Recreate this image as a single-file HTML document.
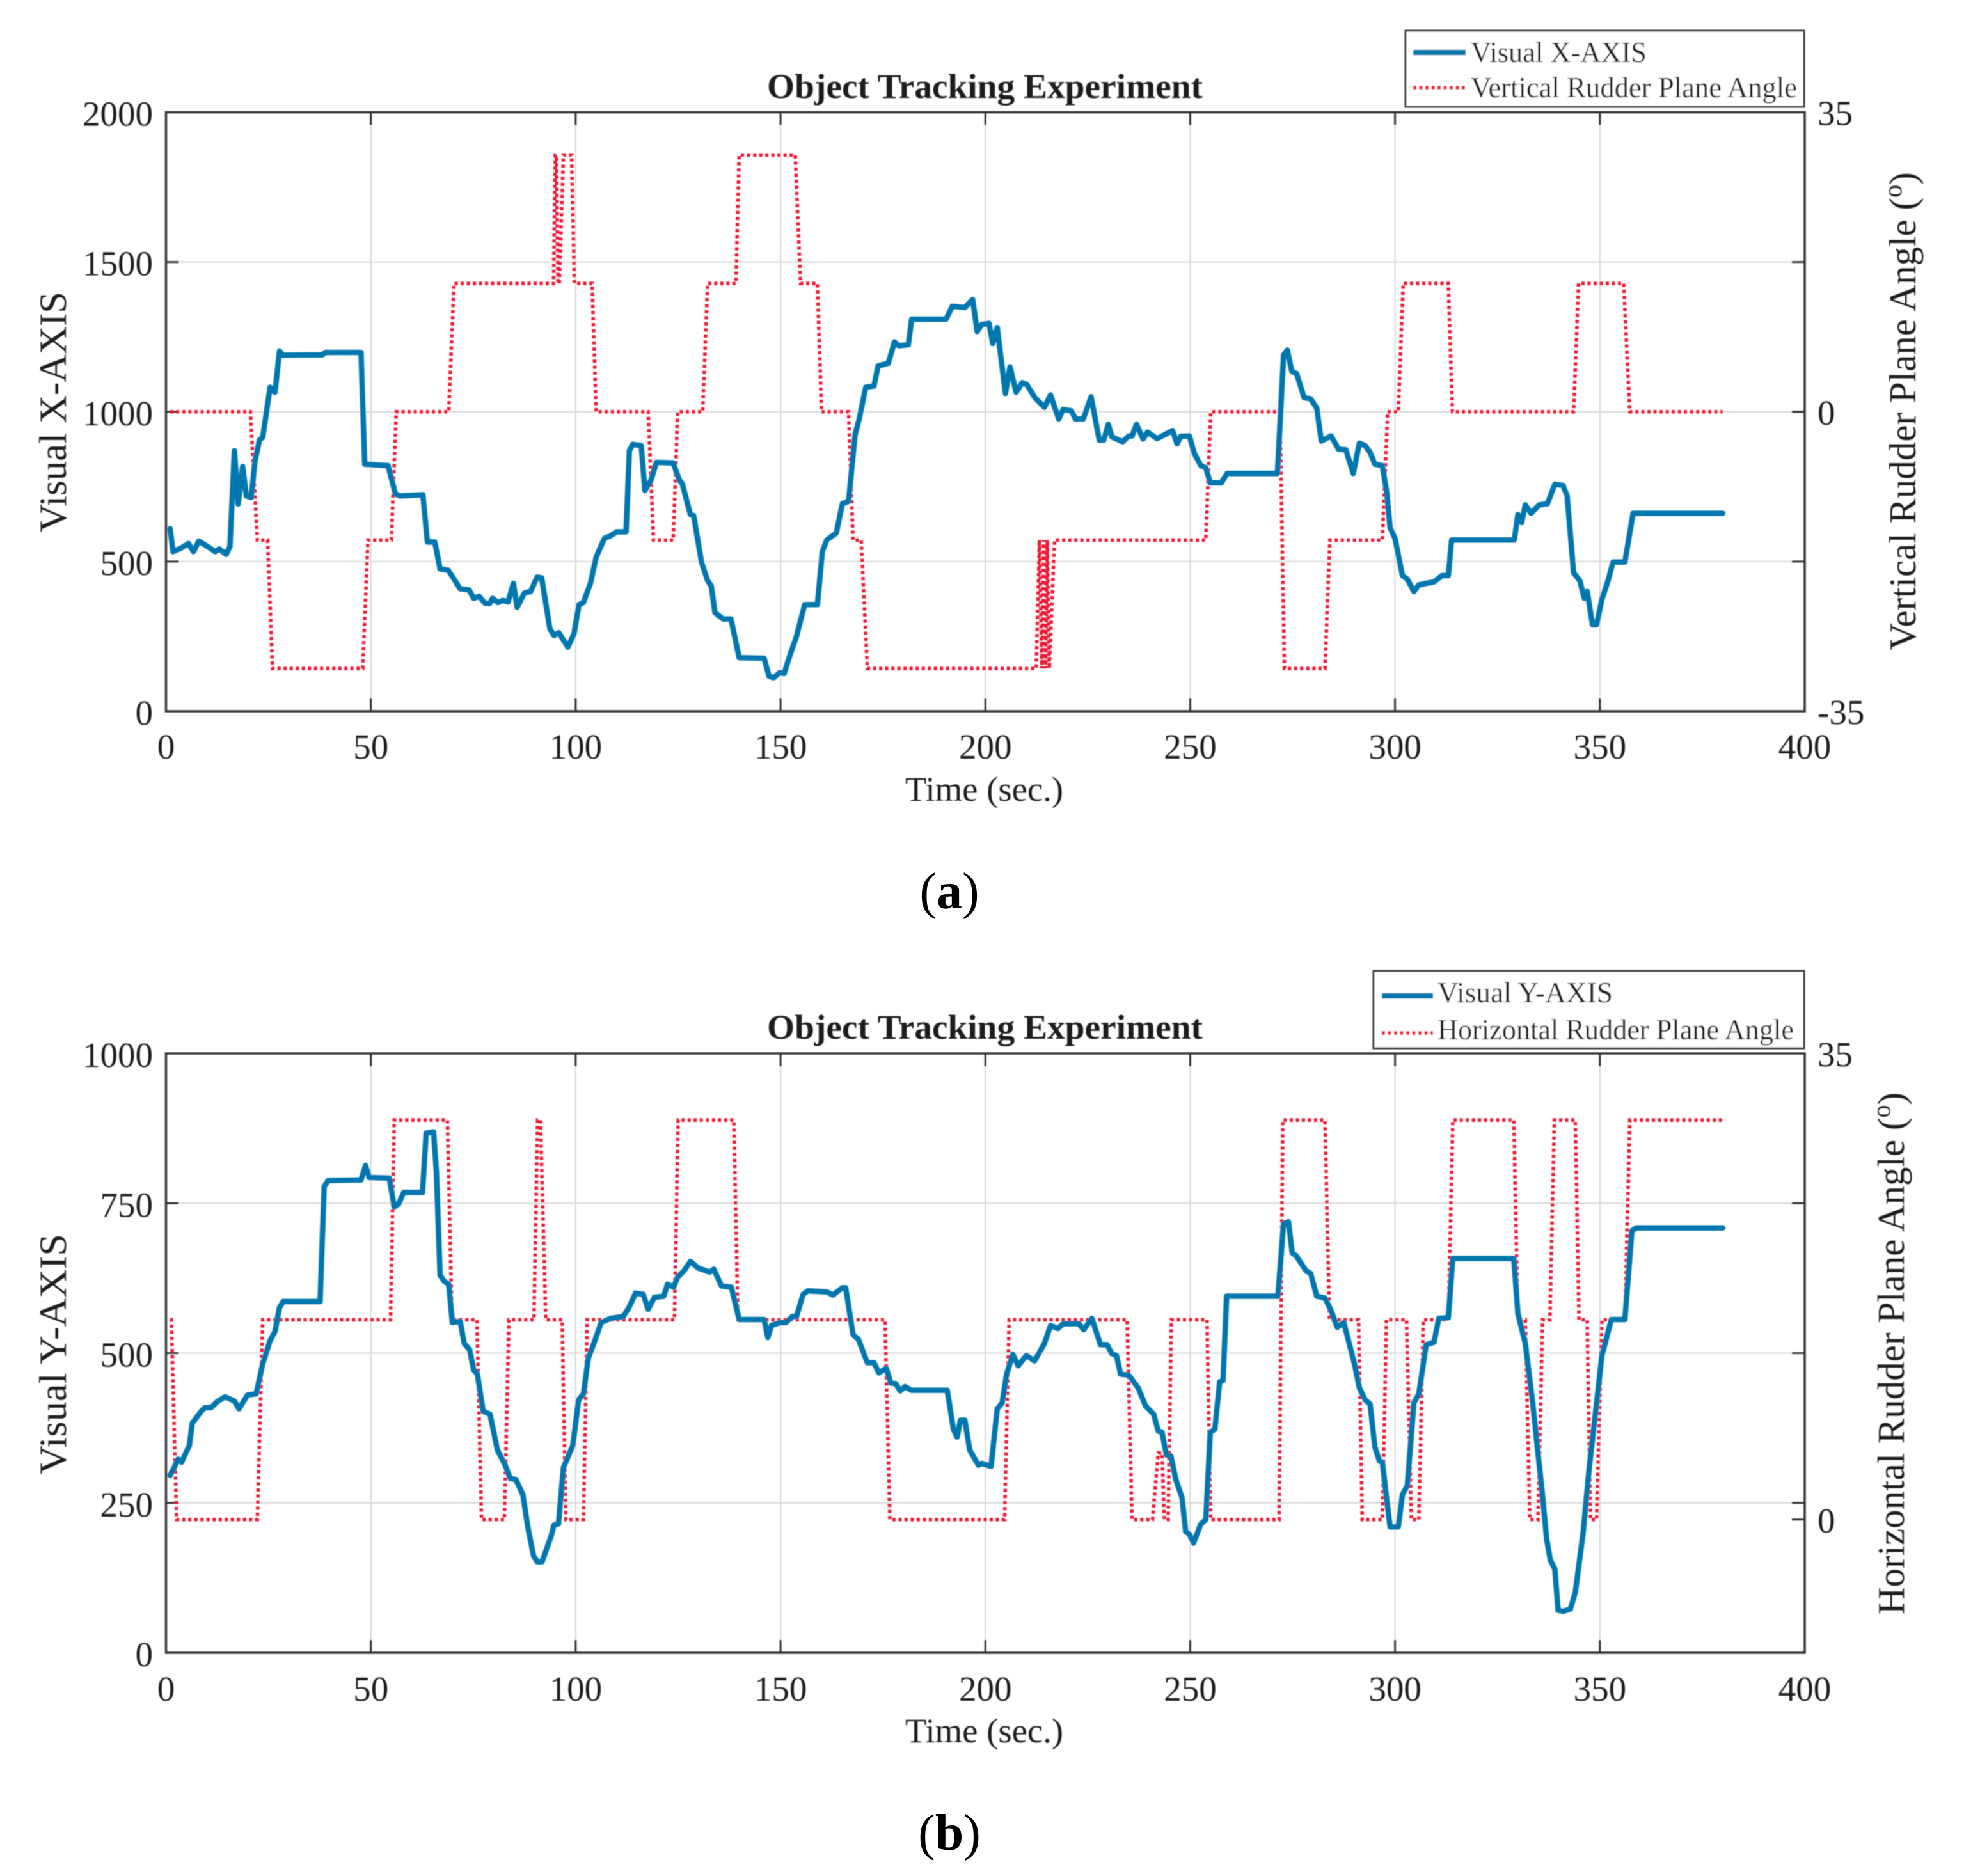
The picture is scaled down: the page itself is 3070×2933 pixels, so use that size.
<!DOCTYPE html>
<html lang="en">
<head>
<meta charset="utf-8">
<title>Object Tracking Experiment</title>
<style>
html,body{margin:0;padding:0;background:#fff;}
svg{display:block;}
text{font-family:"Liberation Serif",serif;fill:#1c1c1c;}
</style>
</head>
<body>
<svg id="figure" xmlns="http://www.w3.org/2000/svg" width="3070" height="2933" viewBox="0 0 3070 2933">
  <defs><filter id="soft" x="-2%" y="-2%" width="104%" height="104%"><feGaussianBlur stdDeviation="0.9"/></filter></defs>
  <g id="chart-layer" filter="url(#soft)">
    <g id="panel-a"></g>
    <g id="panel-b"></g>

    <text x="1199" y="153" font-size="54" font-weight="bold" textLength="681" lengthAdjust="spacingAndGlyphs">Object Tracking Experiment</text>
    <text x="1415" y="1252" font-size="54" textLength="247" lengthAdjust="spacingAndGlyphs">Time (sec.)</text>
    <text transform="translate(103 644) rotate(-90)" font-size="60" text-anchor="middle" textLength="376" lengthAdjust="spacingAndGlyphs">Visual X-AXIS</text>
    <text transform="translate(2994 643) rotate(-90)" font-size="59" text-anchor="middle">Vertical Rudder Plane Angle (<tspan dy="-22" font-size="40">o</tspan><tspan dy="22">)</tspan></text>

    <g>
      <rect x="2197" y="48" width="623" height="119" fill="#fff" stroke="#3a3a3a" stroke-width="3"/>
      <line x1="2209" y1="82" x2="2291" y2="82" stroke="#0076ae" stroke-width="8.5"/>
      <text x="2299" y="97" font-size="46" textLength="275" lengthAdjust="spacingAndGlyphs">Visual X-AXIS</text>
      <line x1="2209" y1="137" x2="2291" y2="137" stroke="#ee1230" stroke-width="5.5" stroke-dasharray="5 4.5"/>
      <text x="2299" y="152" font-size="46" textLength="510" lengthAdjust="spacingAndGlyphs">Vertical Rudder Plane Angle</text>
    </g>

    <text x="1199" y="1624" font-size="54" font-weight="bold" textLength="681" lengthAdjust="spacingAndGlyphs">Object Tracking Experiment</text>
    <text x="1415" y="2724" font-size="54" textLength="247" lengthAdjust="spacingAndGlyphs">Time (sec.)</text>
    <text transform="translate(103 2117) rotate(-90)" font-size="60" text-anchor="middle" textLength="376" lengthAdjust="spacingAndGlyphs">Visual Y-AXIS</text>
    <text transform="translate(2976 2116) rotate(-90)" font-size="59" text-anchor="middle">Horizontal Rudder Plane Angle (<tspan dy="-22" font-size="40">o</tspan><tspan dy="22">)</tspan></text>

    <g>
      <rect x="2147" y="1518" width="673" height="121" fill="#fff" stroke="#3a3a3a" stroke-width="3"/>
      <line x1="2160" y1="1557" x2="2240" y2="1557" stroke="#0076ae" stroke-width="8.5"/>
      <text x="2247" y="1567" font-size="46" textLength="274" lengthAdjust="spacingAndGlyphs">Visual Y-AXIS</text>
      <line x1="2160" y1="1615" x2="2240" y2="1615" stroke="#ee1230" stroke-width="5.5" stroke-dasharray="5 4.5"/>
      <text x="2247" y="1625" font-size="46" textLength="557" lengthAdjust="spacingAndGlyphs">Horizontal Rudder Plane Angle</text>
    </g>
  </g>

  <text x="1484" y="1420" font-size="80" text-anchor="middle" style="fill:#000">(<tspan font-weight="bold">a</tspan>)</text>
  <text x="1484" y="2892" font-size="80" text-anchor="middle" style="fill:#000">(<tspan font-weight="bold">b</tspan>)</text>
</svg>

<script>
// ---------- shared tick labels ----------
const timeTicks = [0, 50, 100, 150, 200, 250, 300, 350, 400];
const leftTicksA = [0, 500, 1000, 1500, 2000];
const leftTicksB = [0, 250, 500, 750, 1000];
const rightTickLabelsA = [-35, 0, 35];
const rightTickLabelsB = [0, 35];

// ---------- panel (a): visual X ----------
const timeX = [
 1,1.7,3.7,5.5,6.7,8,10.5,12,13,14.7,15.6,16.7,17.6,18.7,19.6,20.8,21.7,22.8,23.6,25.4,
 26.6,27.7,28.5,38.1,38.9,47.6,48.5,54.2,56,57.2,62.7,63.8,65.6,66.9,68.9,71.8,74,75.1,76.4,77.9,
 79,79.7,81,82.2,83.5,84.8,85.7,87.5,89,90.6,91.7,93.7,94.7,95.9,98.1,99.6,100.8,101.9,103.6,105,
 107,108.5,110,112.3,113.1,113.9,116,116.9,118.4,119.7,123.8,125.3,126,128,128.8,130.7,132.2,133.1,134,136,
 137.9,139.9,146,147.2,148.3,149.8,150.9,152.1,153.9,155.9,159,160.2,161.3,163.6,165.1,166.6,168.2,169.2,170.8,172.8,
 173.8,176.3,177.8,178.9,181.2,182,190.4,191.9,195,196.9,198,199.1,200.9,201.8,202.9,204.9,206,207.5,209,210.1,
 212.1,214.4,215.9,217.9,219,221,222,223.9,225.8,227.8,228.9,230,230.9,233.5,235,235.8,236.9,238.5,239.6,241.9,
 245.7,246.8,247.7,249.8,251,252.6,253.8,254.9,257.6,259,271.3,272.8,273.7,274.8,276,277.8,279.4,280.9,282,284.4,
 286.2,288,289.8,291.3,292.7,293.9,295.1,296.9,298,298.8,300,301.8,303,304.6,305.8,307.6,309.5,311.5,313,313.8,
 329.1,330,330.9,331.8,333.2,335.2,337.2,339,341,342,343.6,345.1,346.2,346.9,348.2,349.2,350.5,352,353.2,356.1,
 358.1,380];
const visualX = [
 610,533,545,560,533,568,547,533,542,524,550,870,692,817,719,714,834,905,914,1082,
 1065,1203,1189,1190,1198,1198,825,820,725,719,723,565,565,475,471,409,405,377,384,360,
 360,377,363,370,365,427,347,395,400,448,445,276,253,262,214,259,356,363,427,515,
 577,586,599,599,870,891,887,737,772,831,829,772,760,657,653,498,436,418,329,308,
 308,179,177,117,112,129,126,179,250,356,356,533,572,595,693,701,923,976,1082,1086,
 1153,1162,1233,1220,1224,1309,1309,1352,1348,1375,1268,1291,1295,1228,1281,1061,1150,1065,1097,1091,
 1047,1015,1056,976,1008,1003,976,976,1050,905,905,958,916,900,919,919,958,909,932,910,
 937,893,918,919,861,820,813,763,763,794,794,1189,1206,1135,1127,1047,1043,1012,902,919,
 875,873,794,895,887,864,825,820,728,613,577,453,441,400,422,427,432,453,453,572,
 572,657,630,689,661,689,693,758,754,719,462,436,377,400,289,289,374,436,498,498,
 661,661];
const rudderTimeA = [
 1,20.6,22.3,24.8,26,48,49.3,55,56.2,69,70.3,94.6,95,95.3,95.7,96,97,99,99.7,104,
 105,117.7,119,123.8,124.9,131,132.2,139.1,139.9,153.6,154.9,159,160,166.6,167.7,169.7,171.2,212.4,213.2,213.8,
 214.2,214.7,215.1,215.6,216.9,253.8,255,271.9,273,282.9,284.1,296.9,298.2,300.8,302,313,314,343.6,344.8,355.8,
 357.3,380];
const rudderAngleA = [
 0,0,-15,-15,-30,-30,-15,-15,0,0,15,15,30,30,15,15,30,30,15,15,
 0,0,-15,-15,0,0,15,15,30,30,15,15,0,0,-15,-15,-30,-30,-15,-30,
 -15,-30,-15,-30,-15,-15,0,0,-30,-30,-15,-15,0,0,15,15,0,0,15,15,
 0,0];

// ---------- panel (b): visual Y ----------
const timeY = [
 1,2,2.9,3.8,5.7,6.4,8.6,9.5,11,12.5,14.4,16.7,17.8,19.9,22,23.6,25.4,26.6,27.7,28.6,
 37.6,38.6,39.6,47.6,48.7,49.6,54.5,55.7,56.8,58,62.6,63.5,65.3,66,66.9,67.9,69,69.9,71.8,72.8,
 74.1,75.1,76,77.4,79.1,80.9,82.8,84,85.4,87.1,88.3,89.7,90.6,91.8,94,94.7,95.8,97,99.3,100.7,
 101.9,103.1,104.7,106.2,108.5,111.6,113,114.6,116.5,117.7,119.2,121.5,122.4,123.9,124.9,126.4,128,129.9,132.7,133.7,
 135.6,138,139.9,146,146.9,147.8,149.8,151.3,152.9,153.9,155.5,156.7,161.3,162.8,165.1,165.9,167.7,169,171.2,172.8,
 174,175.8,176.9,178.1,179.2,180.4,181.9,190.7,192.2,193.1,193.9,195,196.2,198.3,199.1,201.4,202.9,204.1,205.2,206.7,
 208,210,212,214.4,215.9,217.7,219,222.8,224,226,228.1,229.7,230.9,232,233,235,237.3,239.1,241.1,242.2,
 243.1,244.2,245.3,246.5,248,248.9,249.8,250.8,252.6,253.8,254.9,256,257.2,258,258.9,271.4,272.8,274,274.9,275.8,
 278.3,279.4,280.9,282.9,284.4,285.9,287.5,290.1,291.3,292.7,293.9,295.1,296.2,296.9,298,298.8,300.8,301.8,303,304.6,
 305.8,307.6,309.5,310.7,313,314.1,329,330,331.8,333.6,335.9,337,337.9,339,339.8,341,342.8,344,345.9,347.4,
 349.2,350.5,352.8,356.1,357.8,358.9,380];
const visualY = [
 296,309,323,318,346,383,403,409,409,419,427,420,407,430,432,482,521,536,576,586,
 586,778,788,789,813,793,792,744,749,768,768,867,869,803,630,620,615,551,553,516,
 506,472,465,403,398,338,313,291,289,264,210,162,152,152,195,213,215,309,346,422,
 432,492,521,551,558,561,576,600,598,573,593,595,615,610,627,637,653,642,635,640,
 612,610,556,556,526,546,551,551,561,561,598,604,602,597,609,609,531,523,484,484,
 467,475,450,449,437,444,438,438,373,360,388,388,338,313,316,311,407,417,465,498,
 479,496,487,516,546,541,549,549,539,558,514,514,499,496,465,463,442,412,398,370,
 368,330,328,289,259,202,198,183,215,222,368,373,452,454,595,595,716,719,667,663,
 637,633,595,592,571,543,551,482,442,422,415,343,320,318,254,210,210,264,279,417,
 432,514,518,558,559,658,658,566,516,417,269,190,155,140,71,69,73,101,200,309,
 417,496,556,556,704,709,709];
const rudderTimeB = [
 1,1.3,2.6,22.3,23.6,54.8,55.7,68.7,69.8,75.9,77,82.6,83.7,89.8,90.7,91.4,92.7,96.7,97.6,101.9,
 102.8,124.1,125,138.6,139.6,175.5,176.7,204.7,205.8,234.6,235.8,240.8,242.2,243.1,243.7,244.6,245.4,254.1,255,271.7,
 272.6,282.9,284,291.1,292,296.9,297.9,302.8,304,305.8,306.9,313,314.1,329,330,331.8,332.9,334.9,336,337.8,
 338.9,344,344.9,346.9,347.7,349.2,350.5,356.1,357.3,380];
const rudderAngleB = [
 15,15,0,0,15,15,30,30,15,15,0,0,15,15,30,30,15,15,0,0,
 15,15,30,30,15,15,0,0,15,15,0,0,5,5,0,0,15,15,0,0,
 30,30,15,15,0,0,15,15,0,0,15,15,30,30,15,15,0,0,15,15,
 30,30,15,15,0,0,15,15,30,30];

// ---------- drawing ----------
const NS = 'http://www.w3.org/2000/svg';
function make(tag, attrs, parent) {
  const el = document.createElementNS(NS, tag);
  for (const k in attrs) el.setAttribute(k, attrs[k]);
  parent.appendChild(el);
  return el;
}
function linearScale(d0, d1, r0, r1) {
  return function (v) { return r0 + (v - d0) * (r1 - r0) / (d1 - d0); };
}
function pathFrom(times, values, xFn, yFn) {
  let d = '';
  for (let i = 0; i < times.length; i++) {
    d += (i ? 'L' : 'M') + xFn(times[i]).toFixed(1) + ' ' + yFn(values[i]).toFixed(1);
  }
  return d;
}
const AXIS = '#333';
const GRID = '#d6d6d6';
const LEFT = 259.5, RIGHT = 2821;

function drawPanel(root, top, bottom, leftMax, leftTicks, rightMin, rightTicks, tx, vy, ta, ra, xTickBase) {
  const x = linearScale(0, 400, LEFT, RIGHT);
  const yL = linearScale(0, leftMax, bottom, top);
  const yR = linearScale(rightMin, 35, bottom, top);

  timeTicks.forEach(function (t) {
    if (t > 0 && t < 400) {
      const g = make('line', {x1: x(t), x2: x(t), y1: top, y2: bottom, stroke: GRID, 'stroke-width': 2}, root);
      
      
      const tb = make('line', {x1: x(t), x2: x(t), y1: bottom, y2: bottom - 20, stroke: AXIS, 'stroke-width': 3}, root);
      
      
      const tt = make('line', {x1: x(t), x2: x(t), y1: top, y2: top + 20, stroke: AXIS, 'stroke-width': 3}, root);
      
      
    }
    const lab = make('text', {x: x(t), y: xTickBase, 'font-size': 55, 'text-anchor': 'middle'}, root);
    
    
    lab.textContent = t;
  });

  leftTicks.forEach(function (v) {
    if (v > 0 && v < leftMax) {
      const g = make('line', {x1: LEFT, x2: RIGHT, y1: yL(v), y2: yL(v), stroke: GRID, 'stroke-width': 2}, root);
      
      
      const tl = make('line', {x1: LEFT, x2: LEFT + 20, y1: yL(v), y2: yL(v), stroke: AXIS, 'stroke-width': 3}, root);
      
      
      const tr = make('line', {x1: RIGHT, x2: RIGHT - 20, y1: yL(v), y2: yL(v), stroke: AXIS, 'stroke-width': 3}, root);
      
      
    }
    const lab = make('text', {x: 239, y: yL(v) + 21, 'font-size': 55, 'text-anchor': 'end'}, root);
    
    
    lab.textContent = v;
  });

  rightTicks.forEach(function (v) {
    if (v > rightMin && v < 35) {
      const tr = make('line', {x1: RIGHT, x2: RIGHT - 20, y1: yR(v), y2: yR(v), stroke: AXIS, 'stroke-width': 3}, root);
      
      
    }
    const lab = make('text', {x: 2841, y: yR(v) + 20, 'font-size': 55}, root);
    
    
    lab.textContent = v;
  });

  const rudder = make('path', {d: pathFrom(ta, ra, x, yR), fill: 'none', stroke: '#ee1230', 'stroke-width': 5.5, 'stroke-dasharray': '5 4.5'}, root);
  
  

  const visual = make('path', {d: pathFrom(tx, vy, x, yL), fill: 'none', stroke: '#0076ae', 'stroke-width': 8.5, 'stroke-linejoin': 'round', 'stroke-linecap': 'round'}, root);
  
  

  const box = make('rect', {x: LEFT, y: top, width: RIGHT - LEFT, height: bottom - top, fill: 'none', stroke: AXIS, 'stroke-width': 3.5}, root);
  
  
}

drawPanel(document.getElementById('panel-a'), 175.5, 1112, 2000, leftTicksA, -35, rightTickLabelsA,
  timeX, visualX, rudderTimeA, rudderAngleA, 1186);
drawPanel(document.getElementById('panel-b'), 1647, 2584, 1000, leftTicksB, -10, rightTickLabelsB,
  timeY, visualY, rudderTimeB, rudderAngleB, 2659);
</script>
</body>
</html>
